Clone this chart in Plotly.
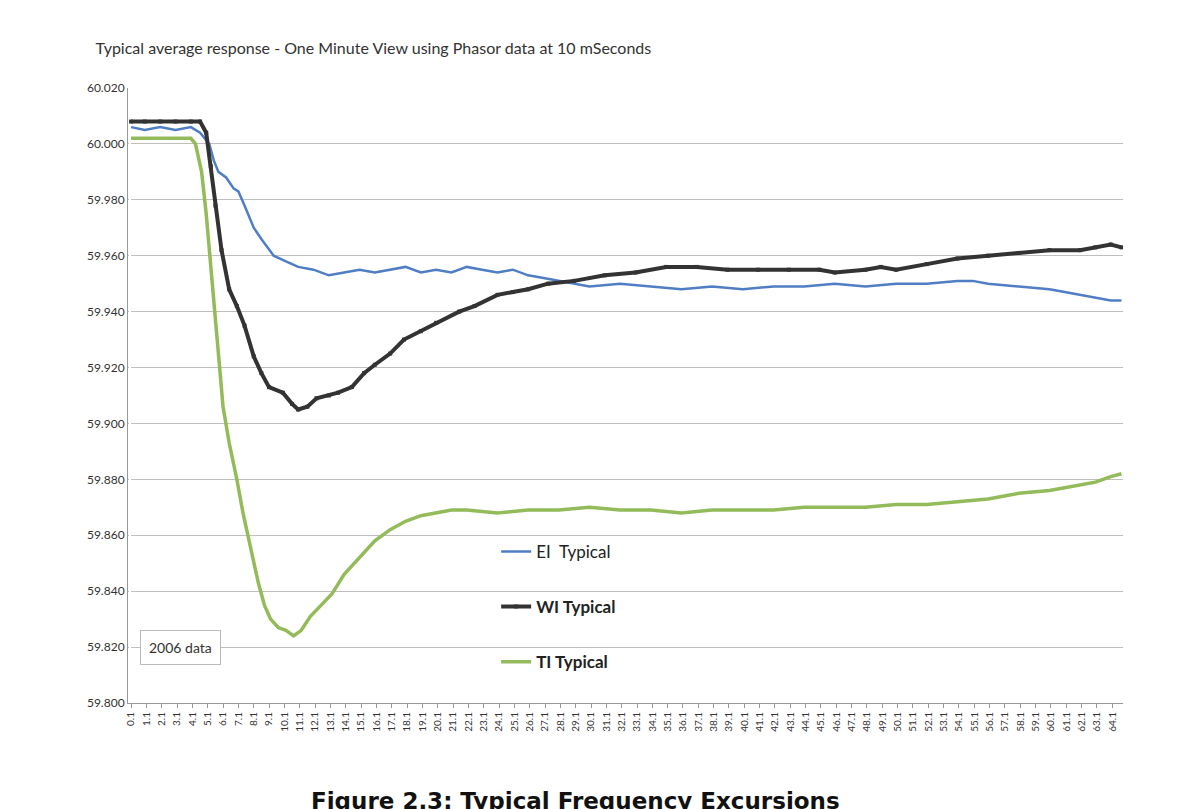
import plotly.graph_objects as go

# seconds
ei_t = [0.1, 1, 2, 3, 4, 4.6, 5.2, 5.5, 5.8, 6.3, 6.8, 7.1, 7.5, 8.1, 8.6, 9.4, 10.2, 11.0, 12, 13, 14, 15, 16, 17, 18, 19, 20, 21, 22, 23, 24, 25, 26, 27, 28, 29, 30, 32, 34, 36, 38, 40, 42, 44, 46, 48, 50, 52, 54, 55, 56, 58, 60, 61, 62, 63, 64, 64.7]
ei_v = [60.006, 60.005, 60.006, 60.005, 60.006, 60.004, 60.000, 59.994, 59.990, 59.988, 59.984, 59.983, 59.978, 59.970, 59.966, 59.960, 59.958, 59.956, 59.955, 59.953, 59.954, 59.955, 59.954, 59.955, 59.956, 59.954, 59.955, 59.954, 59.956, 59.955, 59.954, 59.955, 59.953, 59.952, 59.951, 59.950, 59.949, 59.950, 59.949, 59.948, 59.949, 59.948, 59.949, 59.949, 59.950, 59.949, 59.950, 59.950, 59.951, 59.951, 59.950, 59.949, 59.948, 59.947, 59.946, 59.945, 59.944, 59.944]

wi_t = [0.1, 1, 2, 3, 4, 4.6, 5.0, 5.3, 5.6, 6.0, 6.5, 7.0, 7.5, 8.1, 8.6, 9.1, 10, 10.6, 11.0, 11.6, 12.2, 13, 13.6, 14.5, 15.3, 16, 17, 17.9, 19, 20, 21.5, 22.5, 24, 25, 26, 27.3, 29, 31, 33, 35, 37, 39, 41, 43, 45, 46, 48, 49, 50, 52, 54, 56, 58, 60, 62, 63, 64, 64.7]
wi_v = [60.008, 60.008, 60.008, 60.008, 60.008, 60.008, 60.004, 59.992, 59.978, 59.962, 59.948, 59.942, 59.935, 59.924, 59.918, 59.913, 59.911, 59.907, 59.905, 59.906, 59.909, 59.910, 59.911, 59.913, 59.918, 59.921, 59.925, 59.930, 59.933, 59.936, 59.940, 59.942, 59.946, 59.947, 59.948, 59.950, 59.951, 59.953, 59.954, 59.956, 59.956, 59.955, 59.955, 59.955, 59.955, 59.954, 59.955, 59.956, 59.955, 59.957, 59.959, 59.960, 59.961, 59.962, 59.962, 59.963, 59.964, 59.963]

ti_t = [0.1, 1, 2, 3, 4, 4.3, 4.7, 5.0, 5.5, 6.1, 6.5, 7.0, 7.4, 7.7, 8.0, 8.4, 8.8, 9.2, 9.7, 10.2, 10.7, 11.2, 11.8, 12.5, 13.2, 14, 15, 16, 17, 18, 19, 20, 21, 22, 24, 26, 28, 30, 32, 34, 36, 38, 40, 42, 44, 46, 48, 50, 52, 54, 56, 58, 60, 61, 62, 63, 64, 64.7]
ti_v = [60.002, 60.002, 60.002, 60.002, 60.002, 60.000, 59.990, 59.975, 59.942, 59.906, 59.893, 59.880, 59.868, 59.860, 59.853, 59.843, 59.835, 59.830, 59.827, 59.826, 59.824, 59.826, 59.831, 59.835, 59.839, 59.846, 59.852, 59.858, 59.862, 59.865, 59.867, 59.868, 59.869, 59.869, 59.868, 59.869, 59.869, 59.870, 59.869, 59.869, 59.868, 59.869, 59.869, 59.869, 59.870, 59.870, 59.870, 59.871, 59.871, 59.872, 59.873, 59.875, 59.876, 59.877, 59.878, 59.879, 59.881, 59.882]

tick_vals = [i + 0.1 for i in range(65)]
tick_text = [f"{i}.1" for i in range(65)]

fig = go.Figure()
fig.add_trace(go.Scatter(x=ei_t, y=ei_v, mode='lines', name='EI  Typical',
                         line=dict(color='#4f7ec4', width=2.5), legendgroup='a'))
fig.add_trace(go.Scatter(x=wi_t, y=wi_v, mode='lines+markers', name='<b>WI Typical</b>',
                         line=dict(color='#333333', width=4),
                         marker=dict(symbol='square', size=4, color='#333333'), legendgroup='b'))
fig.add_trace(go.Scatter(x=ti_t, y=ti_v, mode='lines', name='<b>TI Typical</b>',
                         line=dict(color='#93bb5a', width=3.5), legendgroup='c'))

fig.update_layout(
    width=1200, height=809,
    paper_bgcolor='white', plot_bgcolor='white',
    margin=dict(l=120, r=85, t=80, b=114),
    font=dict(family='Lato, Open Sans, sans-serif', color='#333333'),
    title=dict(text='Typical average response - One Minute View using Phasor data at 10 mSeconds',
               x=0.073, xanchor='left', y=0.95, yanchor='middle', font=dict(size=16, color='#333333')),
    xaxis=dict(range=[-0.1, 64.8], tickmode='array', tickvals=tick_vals, ticktext=tick_text,
               tickangle=-90, tickfont=dict(size=10), showgrid=False,
               showline=True, linecolor='#999999', ticks='outside', ticklen=4, tickcolor='#999999'),
    yaxis=dict(range=[59.8, 60.02], dtick=0.02, tickformat='.3f', tickfont=dict(size=12),
               showgrid=True, gridcolor='#bfbfbf', zeroline=False,
               showline=True, linecolor='#999999'),
    legend=dict(x=0.37, y=0.275, xanchor='left', yanchor='top', bgcolor='rgba(0,0,0,0)',
                font=dict(size=17, color='#222222'), tracegroupgap=30),
    annotations=[
        dict(text='2006 data', xref='paper', yref='paper', x=0.012, y=0.09, xanchor='left',
             yanchor='middle', showarrow=False, font=dict(size=14, color='#333333'),
             bordercolor='#bbbbbb', borderwidth=1, borderpad=8, bgcolor='white'),
        dict(text='<b>Figure 2.3: Typical Frequency Excursions</b>', xref='paper', yref='paper',
             x=0.45, y=-0.16, xanchor='center', yanchor='middle', showarrow=False,
             font=dict(size=23, family='DejaVu Sans, sans-serif', color='#111111')),
    ],
)

fig.write_html("out.html")
